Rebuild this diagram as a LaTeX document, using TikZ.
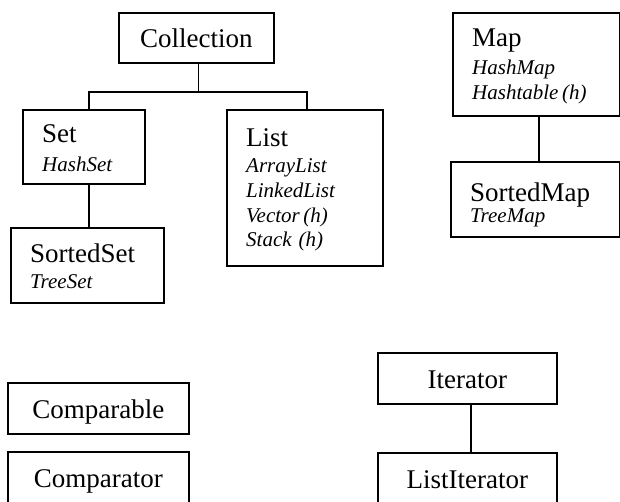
\documentclass[tikz,border=0pt]{standalone}
\usepackage{fontspec}
\setmainfont{Liberation Serif}
\usetikzlibrary{positioning}

\tikzset{
  box/.style={draw, line width=1.8pt, rectangle, inner sep=0pt, anchor=north west},
  head/.style={font=\fontsize{27}{31}\selectfont, inner sep=0pt},
  sub/.style={font=\fontsize{21}{24.6}\selectfont\itshape, inner sep=0pt, align=left, text width=150pt, anchor=base west},
  link/.style={line width=1.8pt},
}

\begin{document}
\begin{tikzpicture}[x=1pt, y=-1pt]
  \clip (0,0) rectangle (620,502);

  % boxes
  \node [box, minimum width=155, minimum height=50] (collection) at (118,12) {};
  \node [box, minimum width=122, minimum height=74] (set) at (22,109) {};
  \node [box, minimum width=153, minimum height=75] (sortedset) at (10,227) {};
  \node [box, minimum width=156, minimum height=156] (list) at (226,109) {};
  \node [box, minimum width=167, minimum height=103] (map) at (452,12) {};
  \node [box, minimum width=169, minimum height=75] (sortedmap) at (450,161) {};
  \node [box, minimum width=181, minimum height=51] (comparable) at (7,382) {};
  \node [box, minimum width=181, minimum height=70] (comparator) at (7,451) {};
  \node [box, minimum width=179, minimum height=51] (iterator) at (377,352) {};
  \node [box, minimum width=179, minimum height=70] (listiterator) at (377,452) {};

  % texts
  \node [head, anchor=base] (collectiontext) at ([yshift=-36pt]collection.north) {Collection};
  \node [head, anchor=base west] (settext) at ([xshift=20pt, yshift=-34pt]set.north west) {Set};
  \node [sub] (setsub) at ([xshift=20pt, yshift=-63pt]set.north west) {HashSet};
  \node [head, anchor=base west] (sortedsettext) at ([xshift=20pt, yshift=-35pt]sortedset.north west) {SortedSet};
  \node [sub] (sortedsetsub) at ([xshift=20pt, yshift=-61pt]sortedset.north west) {TreeSet};
  \node [head, anchor=base west] (listtext) at ([xshift=20pt, yshift=-38pt]list.north west) {List};
  \node [sub] (listsub) at ([xshift=20pt, yshift=-64pt]list.north west) {ArrayList\\LinkedList\\Vector\,(h)\\Stack (h)};
  \node [head, anchor=base west] (maptext) at ([xshift=20pt, yshift=-35pt]map.north west) {Map};
  \node [sub] (mapsub) at ([xshift=20pt, yshift=-63pt]map.north west) {HashMap\\Hashtable\,(h)};
  \node [head, anchor=base west] (sortedmaptext) at ([xshift=20pt, yshift=-41pt]sortedmap.north west) {SortedMap};
  \begin{scope}
    \clip (sortedmap.north west) rectangle ([yshift=11pt]sortedmap.south east);
    \node [sub] (sortedmapsub) at ([xshift=20pt, yshift=-62pt]sortedmap.north west) {TreeMap};
  \end{scope}
  \node [head, anchor=base] (comparabletext) at ([yshift=-36pt]comparable.north) {Comparable};
  \node [head, anchor=base] (comparatortext) at ([yshift=-36pt]comparator.north) {Comparator};
  \node [head, anchor=base] (iteratortext) at ([yshift=-36pt]iterator.north) {Iterator};
  \node [head, anchor=base] (listiteratortext) at ([yshift=-36pt]listiterator.north) {ListIterator};

  % connectors
  \draw [link] ([xshift=2pt]collection.south) -- ++(0,28) coordinate (bus);
  \draw [link] ([xshift=5pt]set.north) |- (bus) -| ([xshift=2pt]list.north);
  \draw [link] ([xshift=5pt]set.south) -- ([xshift=5pt]set.south |- sortedset.north);
  \draw [link] ([xshift=2.5pt]map.south) -- ([xshift=2.5pt]map.south |- sortedmap.north);
  \draw [link] ([xshift=3.5pt]iterator.south) -- ([xshift=3.5pt]iterator.south |- listiterator.north);
\end{tikzpicture}
\end{document}
